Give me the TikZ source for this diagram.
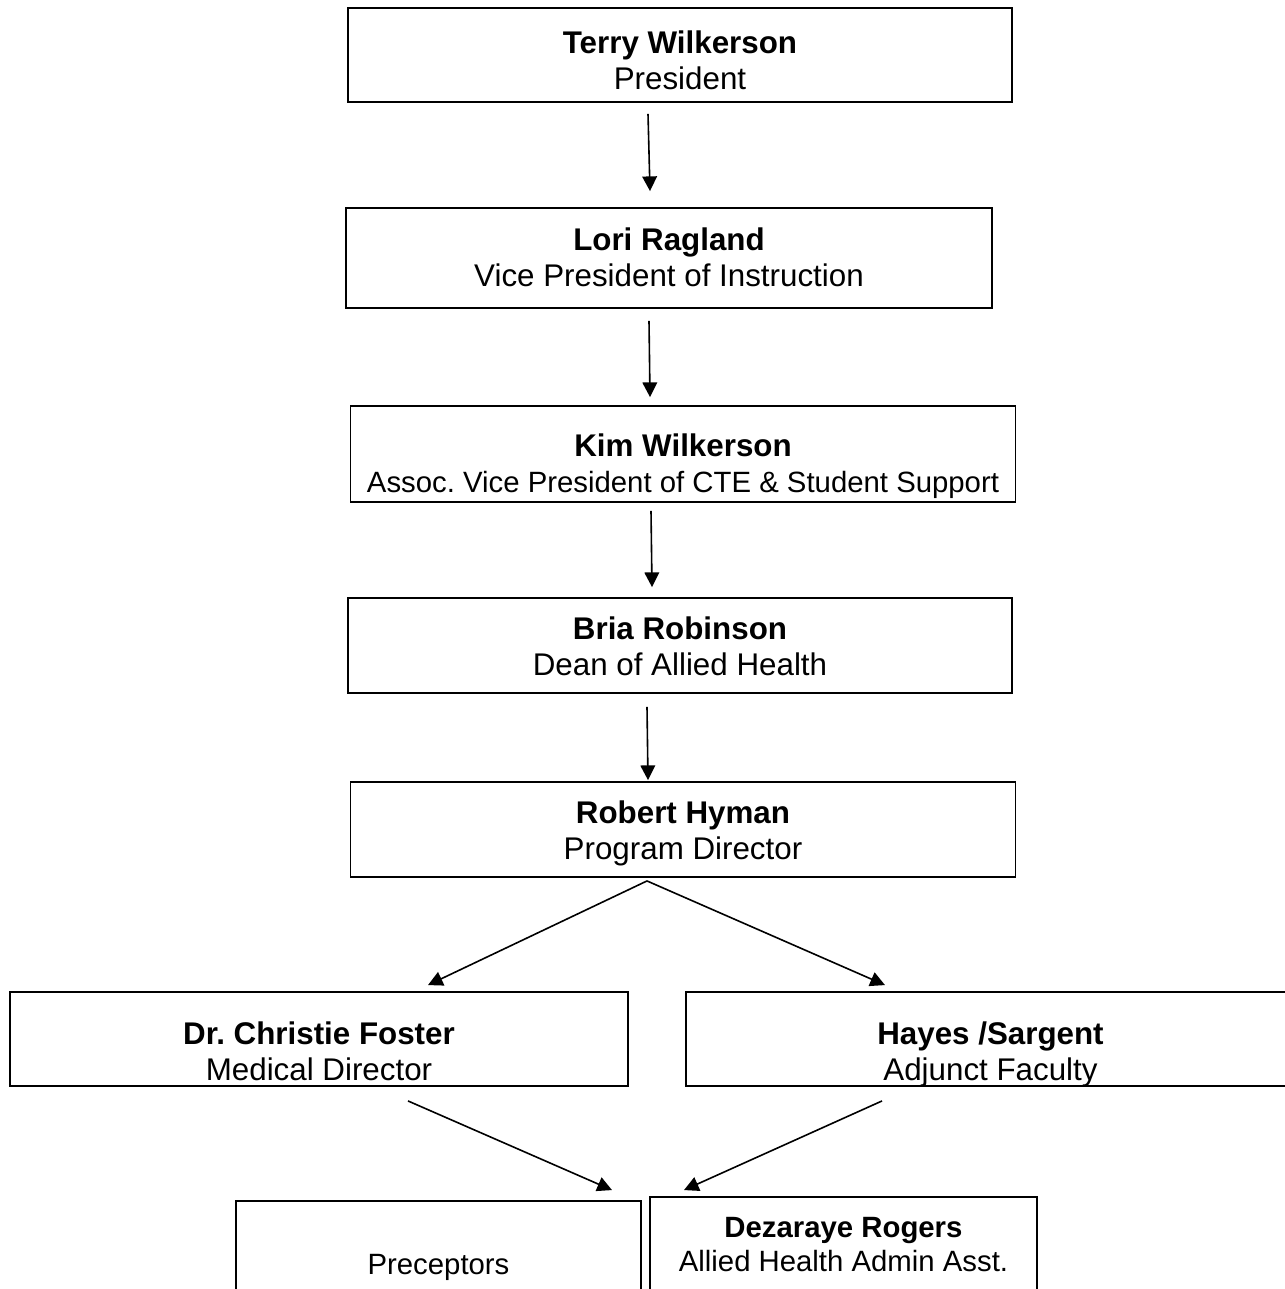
\documentclass[tikz,border=0pt]{standalone}
\usepackage{fontspec}
\setmainfont{Liberation Sans}
\usetikzlibrary{arrows.meta,calc}

\tikzset{
  box/.style={draw,line width=1.4pt,inner sep=0pt,align=center,
    font=\fontsize{23.5}{27}\selectfont,text depth=0pt,text height=#1},
  lowbox/.style={box=#1,font=\fontsize{22}{25.5}\selectfont},
  arr/.style={line width=1.2pt,-{Triangle[length=11pt,width=11pt]}}
}

\begin{document}
\frenchspacing
\begin{tikzpicture}[x=0.75pt,y=-0.75pt]
        \useasboundingbox (0,0) rectangle (1285,1289);
        \clip (0,0) rectangle (1285,1289);
        % chain of command
        \node[box=51.4pt,minimum width=664*0.75pt,minimum height=94*0.75pt] (terry) at (680,55)
            {\textbf{Terry Wilkerson}\\President};
        \node[box=42.4pt,minimum width=646*0.75pt,minimum height=100*0.75pt] (lori) at (669,258)
            {\textbf{Lori Ragland}\\Vice President of Instruction};
        \node[box=57.7pt,minimum width=665*0.75pt,minimum height=96*0.75pt] (kim) at (683,454)
            {\textbf{Kim Wilkerson}\\{\fontsize{22}{27}\selectfont Assoc. Vice President of CTE \& Student Support}};
        \node[box=44.7pt,minimum width=664*0.75pt,minimum height=95*0.75pt] (bria) at (680,645.5)
            {\textbf{Bria Robinson}\\Dean of Allied Health};
        \node[box=44.7pt,minimum width=665*0.75pt,minimum height=95*0.75pt] (robert) at (683,829.5)
            {\textbf{Robert Hyman}\\Program Director};
        % second row
        \node[box=61.9pt,minimum width=618*0.75pt,minimum height=94*0.75pt] (christie) at (319,1039)
            {\textbf{Dr. Christie Foster}\\Medical Director};
        \node[box=61.9pt,minimum width=609*0.75pt,minimum height=94*0.75pt] (hayes) at (990.5,1039)
            {\textbf{Hayes /Sargent}\\Adjunct Faculty};
        % bottom row, cut off by the page
        \node[lowbox=16.5pt,minimum width=405*0.75pt,minimum height=124*0.75pt] (precep) at (438.5,1263)
            {Preceptors};
        \node[lowbox=36pt,minimum width=387*0.75pt,minimum height=100*0.75pt] (rogers) at (843.5,1247)
            {\textbf{Dezaraye Rogers}\\Allied Health Admin Asst.};

        \draw[arr] ($(terry.south)+(-32,11)$) -- ($(lori.north)+(-19,-16)$);
        \draw[arr] ($(lori.south)+(-20,12)$) -- ($(kim.north)+(-33,-8)$);
        \draw[arr] ($(kim.south)+(-32,8)$) -- ($(bria.north)+(-28,-10)$);
        \draw[arr] ($(bria.south)+(-33,13)$) -- ($(robert.north)+(-35,-1)$);
        \draw[arr] ($(robert.south)+(-36,3)$) -- ($(christie.north)+(109,-6)$);
        \draw[arr] ($(robert.south)+(-36,3)$) -- ($(hayes.north)+(-105.5,-6)$);
        \draw[arr] ($(christie.south)+(89,14)$) -- ($(precep.north)+(173.5,-10)$);
        \draw[arr] ($(hayes.south)+(-108.5,14)$) -- ($(rogers.north)+(-159.5,-6)$);
\end{tikzpicture}
\end{document}
